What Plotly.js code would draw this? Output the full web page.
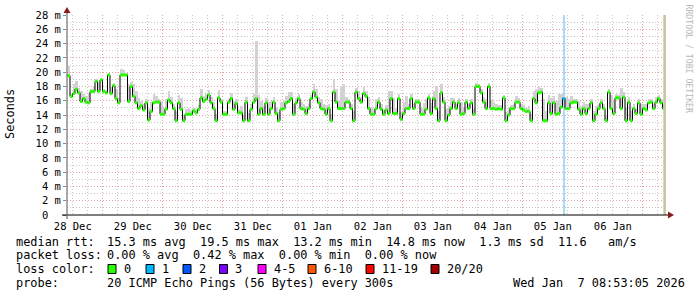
<!DOCTYPE html>
<html>
<head>
<meta charset="utf-8">
<script src="https://cdn.plot.ly/plotly-3.0.1.min.js"></script>
<style>html,body{margin:0;padding:0;background:#fff;}#chart{width:697px;height:297px;}</style>
</head>
<body>
<div id="chart"></div>
<script>
// ---------------- DATA ----------------
// Hourly median RTT (ms), oldest first; last sample ends at graph end time
const median = [
19.5,16.6,17.0,17.6,17.1,15.9,16.3,15.8,15.7,17.3,
17.3,18.7,17.3,18.9,17.3,17.1,19.6,17.0,18.1,16.3,
15.7,19.6,19.6,19.6,15.9,18.0,16.6,15.7,14.9,15.3,
14.7,15.7,13.3,14.5,15.7,15.8,15.8,14.1,14.1,14.8,
16.1,15.7,14.9,13.2,15.7,14.8,13.2,14.1,14.1,14.1,
14.6,14.3,14.8,16.4,15.9,16.2,16.8,15.7,14.9,13.2,
16.4,15.8,14.1,14.1,15.8,16.3,14.8,15.6,14.3,14.3,
13.2,15.8,13.2,14.8,15.8,16.3,14.1,14.9,14.1,15.7,
14.1,14.9,15.8,14.2,13.2,14.8,14.9,15.7,15.9,16.3,
14.1,15.7,16.3,14.9,14.8,14.2,14.9,16.3,17.2,16.5,
15.7,14.9,14.8,14.1,14.9,13.2,17.2,15.8,14.9,14.9,
14.9,15.8,15.8,14.9,13.2,17.2,16.3,15.8,17.0,16.6,
14.9,14.1,14.1,14.9,15.8,14.8,14.1,14.7,14.2,16.3,
14.2,14.2,16.3,13.4,14.2,14.9,14.9,16.3,14.9,15.8,
15.8,14.1,14.1,14.8,16.4,14.2,16.3,14.9,13.2,17.1,
15.8,13.2,14.0,14.9,15.8,14.9,15.7,14.1,14.2,15.8,
14.9,15.7,14.1,18.0,18.0,17.1,15.8,14.9,18.0,14.9,
14.9,14.8,14.9,14.8,16.4,13.2,14.0,14.9,14.9,15.8,
15.8,14.9,14.7,14.5,14.5,13.2,16.3,15.7,17.1,17.2,
13.2,13.2,15.7,14.2,15.7,14.1,14.2,15.1,16.3,14.9,
14.9,15.7,15.8,15.8,14.8,14.1,14.9,14.2,14.9,15.7,
13.2,14.1,14.9,15.7,14.9,13.2,17.2,14.9,14.2,16.4,
16.4,14.9,16.5,13.2,15.8,13.2,14.9,14.2,15.7,14.1,
14.9,14.7,15.7,15.8,14.9,15.8,16.3,15.7,14.9
];
// Hourly maximum ping RTT (top of the smoke), ms
const smokeMax = [
20.8,17.0,18.3,18.7,17.8,17.3,17.0,16.6,17.1,17.7,
18.0,19.0,18.6,19.2,17.6,17.5,19.9,17.9,18.5,17.6,
16.4,20.4,20.3,19.9,18.4,18.6,18.3,17.4,16.4,16.0,
15.5,16.3,15.0,15.8,16.9,16.6,16.2,15.9,15.0,16.2,
17.3,16.5,15.6,14.6,16.8,16.4,14.0,14.9,15.0,14.7,
15.0,14.8,15.4,17.6,16.6,16.9,17.5,16.5,15.8,14.2,
17.5,16.3,14.6,14.5,16.2,17.1,16.0,16.3,14.9,15.2,
14.0,16.5,14.3,15.6,17.0,24.3,16.8,15.9,15.2,16.4,
15.8,16.0,16.5,15.0,14.4,15.8,15.9,16.6,17.2,17.2,
15.6,16.4,16.9,15.8,15.6,15.3,15.6,16.8,18.3,17.6,
16.5,16.2,15.6,15.4,15.5,14.1,19.0,17.6,16.1,18.0,
18.4,16.5,16.2,15.6,14.6,17.8,17.3,16.5,17.9,17.4,
16.5,15.1,14.8,16.3,16.5,15.5,14.8,15.4,17.3,17.4,
16.4,15.0,17.0,14.4,15.8,16.6,15.6,16.9,15.6,16.3,
16.2,15.0,15.7,16.2,17.0,15.7,17.3,18.0,14.6,18.3,
16.5,14.8,15.2,16.4,16.4,15.6,16.4,15.8,15.1,16.3,
15.6,16.3,15.0,18.5,18.4,17.6,16.5,16.2,18.5,16.1,
15.8,15.6,15.4,15.4,16.8,14.4,15.1,15.4,15.6,16.6,
16.4,15.6,15.4,15.0,15.2,14.2,17.4,17.7,18.0,17.8,
16.2,14.5,16.8,16.4,16.6,16.0,16.9,17.0,16.8,16.5,
16.2,16.6,16.2,16.3,15.9,15.2,15.8,15.6,15.6,16.3,
14.6,15.3,15.6,16.2,15.6,14.0,17.6,16.8,16.0,16.9,
16.8,17.8,17.2,15.0,16.5,14.5,15.6,14.9,16.3,15.6,
15.5,15.5,16.2,16.2,15.6,16.5,16.8,16.2,15.4
];
// Samples with packet loss (index into the arrays above) and lost pings
const lossSample = [198];
const lossCount = [1];

const graphEnd = Date.UTC(2026, 0, 7, 8, 53, 5);
const graphStart = Date.UTC(2025, 11, 28, 9, 41, 0);
const stepMs = 3600000;

const yTickVals = [0,2,4,6,8,10,12,14,16,18,20,22,24,26,28];
const yTickText = ['0\u00a0\u00a0','2 m','4 m','6 m','8 m','10 m','12 m','14 m','16 m','18 m','20 m','22 m','24 m','26 m','28 m'];

const lossLabels = ['0','1','2','3','4-5','6-10','11-19','20/20'];
const lossColors = ['#26ff00','#00b8ff','#0059ff','#7e00ff','#ff00ff','#ff5500','#ff0000','#a10000'];

const rttLine = '15.3 ms avg  19.5 ms max  13.2 ms min  14.8 ms now  1.3 ms sd  11.6   am/s';
const lossLine = '0.00 % avg  0.42 % max  0.00 % min  0.00 % now';
const probeLine = '20 ICMP Echo Pings (56 Bytes) every 300s';
const stampLine = 'Wed Jan  7 08:53:05 2026';

// ---------------- BUILD ----------------
const N = median.length;
const tStart = median.map((_, i) => graphEnd - (N - i) * stepMs);
const tMid = tStart.map(t => t + stepMs / 2);

const lossH = median.map(() => null);
lossSample.forEach((s, k) => { if (lossCount[k] > 0) lossH[s] = 28; });

// median band segments, split by loss colour
function segs(filter) {
  const xs = [], ys = [];
  median.forEach((v, i) => {
    if (!filter(i)) return;
    xs.push(tStart[i], tStart[i] + stepMs, null);
    ys.push(v, v, null);
  });
  return { xs, ys };
}
const okSeg = segs(i => lossSample.indexOf(i) < 0);
const lossSeg = segs(i => lossSample.indexOf(i) >= 0);

const traces = [
  { type: 'bar', x: tMid, y: lossH, base: 0, width: stepMs,
    marker: { color: '#a6dcf6', line: { width: 0 } }, hoverinfo: 'skip' },
  { type: 'bar', x: tMid, y: smokeMax.map((v, i) => v - median[i]), base: median, width: stepMs,
    marker: { color: '#d2d2d2', line: { width: 0 } }, hoverinfo: 'skip' },
  { type: 'scatter', mode: 'lines', x: tStart.concat([graphEnd]), y: median.concat([median[N - 1]]),
    line: { shape: 'hv', color: '#000000', width: 1 }, hoverinfo: 'skip' },
  { type: 'scatter', mode: 'lines', x: okSeg.xs, y: okSeg.ys, connectgaps: false,
    line: { color: lossColors[0], width: 3 }, hoverinfo: 'skip' },
  { type: 'scatter', mode: 'lines', x: lossSeg.xs, y: lossSeg.ys, connectgaps: false,
    line: { color: lossColors[1], width: 3 }, hoverinfo: 'skip' }
];

const L = 67, R = 665, T = 15, B = 215;
const px = x => (x - L) / (R - L);
const py = y => (B - y) / (B - T);
const mono = 'DejaVu Sans Mono, monospace';

const ann = [];
function txt(x, y, s, size, color, opts) {
  ann.push(Object.assign({ xref: 'paper', yref: 'paper', x: px(x), y: py(y), text: s,
    showarrow: false, xanchor: 'left', yanchor: 'middle', borderpad: 0,
    font: { family: mono, size: size, color: color } }, opts || {}));
}
const fs = 11.9;
txt(15, 241.5, 'median rtt:', fs, '#000');
txt(106, 241.5, rttLine.replace(/ /g, '&#160;'), fs, '#000');
txt(15, 255.3, 'packet loss:', fs, '#000');
txt(106, 255.3, lossLine.replace(/ /g, '&#160;'), fs, '#000');
txt(15, 269, 'loss color:', fs, '#000');
txt(15, 282.7, 'probe:', fs, '#000');
txt(106, 282.7, probeLine, fs, '#000');
txt(512, 282.7, stampLine.replace(/ /g, '&#160;'), fs, '#000');
txt(10, 114, 'Seconds', fs, '#000', { xanchor: 'center', textangle: -90 });
txt(688.5, 59, 'RRDTOOL / TOBI OETIKER', 8.2, '#b8b8b8', { xanchor: 'center', textangle: 90 });

const boxX = [108, 146, 183, 219.5, 258, 308, 366, 431];
const shapes = [];
lossLabels.forEach((lab, k) => {
  shapes.push({ type: 'rect', xref: 'paper', yref: 'paper', x0: px(boxX[k]), x1: px(boxX[k] + 8),
    y0: py(264.5), y1: py(273.5), fillcolor: lossColors[k], line: { color: '#000', width: 1 } });
  txt(boxX[k] + 14.5, 269, lab, fs, '#000');
});
// right-edge marker band
shapes.push({ type: 'rect', xref: 'paper', yref: 'paper', x0: px(663.3), x1: px(666), y0: 0, y1: 1,
  fillcolor: '#c9c6a6', line: { width: 0 } });
// axes with arrows
shapes.push({ type: 'line', xref: 'paper', yref: 'paper', x0: px(62), x1: px(669), y0: 0, y1: 0,
  line: { color: '#000', width: 1 } });
shapes.push({ type: 'line', xref: 'paper', yref: 'paper', x0: 0, x1: 0, y0: py(219), y1: py(11),
  line: { color: '#555', width: 1 } });
shapes.push({ type: 'path', xref: 'paper', yref: 'paper',
  path: `M ${px(668)} ${py(211.5)} L ${px(674)} ${py(215)} L ${px(668)} ${py(218.5)} Z`,
  fillcolor: '#8b1a1a', line: { width: 0 } });
shapes.push({ type: 'path', xref: 'paper', yref: 'paper',
  path: `M ${px(63.5)} ${py(13)} L ${px(67)} ${py(7)} L ${px(70.5)} ${py(13)} Z`,
  fillcolor: '#8b1a1a', line: { width: 0 } });

const layout = {
  width: 697, height: 297,
  margin: { l: L, r: 697 - R, t: T, b: 297 - B, pad: 0 },
  paper_bgcolor: '#ffffff', plot_bgcolor: '#ffffff',
  showlegend: false, barmode: 'overlay', bargap: 0,
  xaxis: {
    type: 'date', range: [graphStart, graphEnd], fixedrange: true,
    tick0: '2025-12-28', dtick: 86400000, ticklabelmode: 'period', tickformat: '%d %b',
    showgrid: true, gridcolor: '#e3a3a3', griddash: '1px,2px', gridwidth: 1,
    minor: { dtick: 6 * 3600000, tick0: '2025-12-28', showgrid: true, gridcolor: '#c8c8c8', griddash: '1px,2px', gridwidth: 1 },
    ticks: '', showline: false, zeroline: false, ticklabelstandoff: 3,
    tickfont: { family: mono, size: 10.5, color: '#000' }
  },
  yaxis: {
    range: [0, 28], fixedrange: true,
    tickmode: 'array', tickvals: yTickVals, ticktext: yTickText,
    showgrid: true, gridcolor: '#e3a3a3', griddash: '1px,2px', gridwidth: 1,
    minor: { dtick: 1, tick0: 0, showgrid: true, gridcolor: '#c8c8c8', griddash: '1px,2px', gridwidth: 1 },
    ticks: 'outside', ticklen: 3, tickcolor: '#888', showline: false, zeroline: false,
    tickfont: { family: mono, size: 10.5, color: '#000' }
  },
  shapes: shapes,
  annotations: ann
};

Plotly.newPlot('chart', traces, layout, { staticPlot: true, displayModeBar: false });
</script>
</body>
</html>
